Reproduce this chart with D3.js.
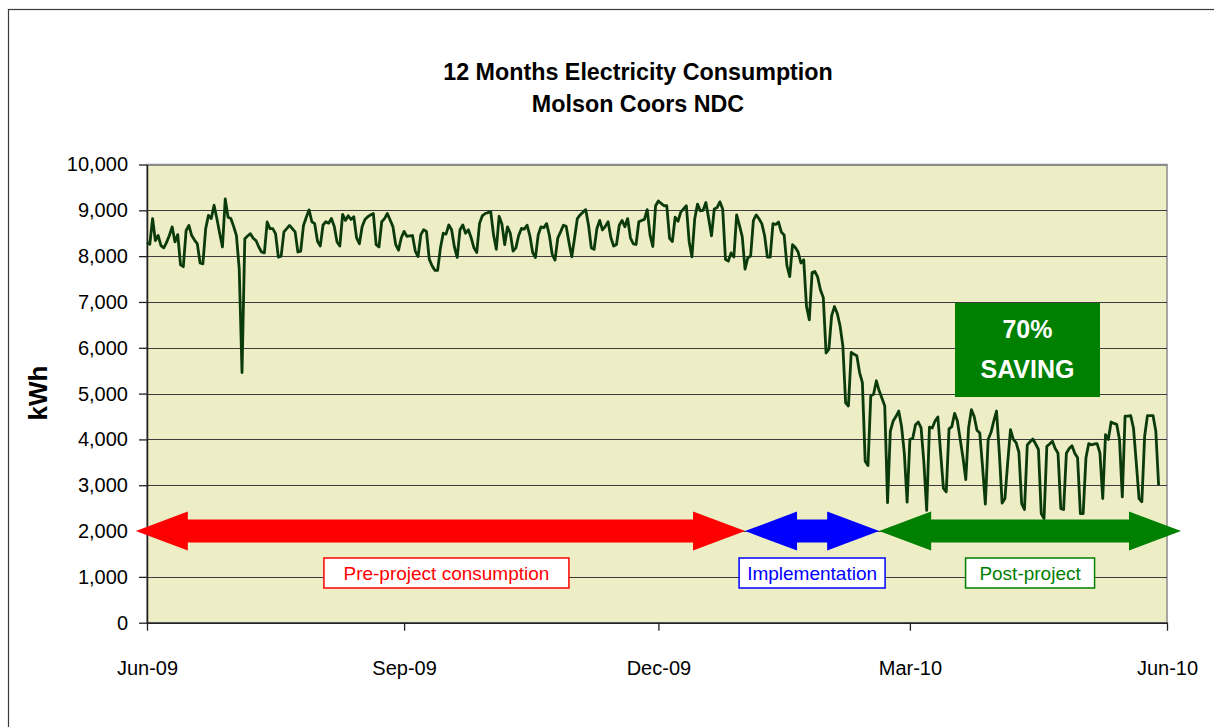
<!DOCTYPE html>
<html>
<head>
<meta charset="utf-8">
<script src="https://cdn.jsdelivr.net/npm/d3@7"></script>
<style>
  html, body { margin: 0; padding: 0; background: #fff; }
  svg { display: block; font-family: "Liberation Sans", Arial, sans-serif; }
</style>
</head>
<body>
<div id="chart"></div>
<script>
// daily consumption, starting 1 Jun 2009
const startDay = new Date(2009, 5, 1);
const dailyKwh = [
  8300, 8260, 8820, 8340, 8450, 8230, 8180,
  8300, 8450, 8640, 8310, 8470, 7810, 7770,
  8560, 8670, 8450, 8350, 8270, 7850, 7830,
  8600, 8890, 8820, 9110, 8820, 8500, 8200,
  9250, 8850, 8820, 8650, 8450, 7720, 5460,
  8380, 8440, 8490, 8390, 8340, 8200, 8090,
  8070, 8745, 8600, 8600, 8490, 7980, 8000,
  8530, 8600, 8670, 8600, 8530, 8090, 8110,
  8670, 8850, 9010, 8750, 8710, 8330, 8220,
  8680, 8750, 8720, 8820, 8650, 8310, 8220,
  8910, 8780, 8880, 8800, 8860, 8400, 8270,
  8645, 8800, 8860, 8900, 8930, 8250, 8200,
  8750, 8820, 8930, 8790, 8645, 8250, 8130,
  8400, 8540, 8430, 8440, 8450, 8110, 7990,
  8470, 8575, 8540, 7935, 7790, 7690, 7690,
  8180, 8500, 8480, 8680, 8575, 8200, 7970,
  8575, 8680, 8500, 8575, 8400, 8180, 8080,
  8715, 8880, 8930, 8950, 8970, 8465, 8150,
  8870, 8700, 8250, 8640, 8500, 8110, 8180,
  8450, 8605, 8590, 8675, 8450, 8080, 7970,
  8465, 8640, 8620, 8710, 8450, 8040, 7915,
  8395, 8530, 8675, 8650, 8300, 7985, 8395,
  8820, 8900, 8960, 9015, 8675, 8180, 8150,
  8605, 8780, 8570, 8650, 8750, 8400, 8220,
  8255, 8675, 8780, 8640, 8820, 8400, 8270,
  8255, 8750, 8780, 8800, 9015, 8465, 8210,
  9100, 9205, 9150, 9100, 9100, 8390, 8320,
  8850, 8760, 8960, 9030, 9100, 8320, 7985,
  8815, 9135, 8990, 9000, 9170, 8815, 8445,
  9030, 9060, 9185, 9030, 7930, 7890, 8070,
  7980, 8900, 8670, 8425, 7715, 7965, 8000,
  8780, 8900, 8815, 8710, 8450, 7980, 7980,
  8710, 8690, 8745, 8525, 8460, 7790, 7555,
  8250, 8190, 8090, 7850, 7920, 6900, 6610,
  7640, 7665, 7540, 7260, 7100, 5885, 5970,
  6700, 6900, 6750, 6480, 6045, 4800, 4730,
  5900, 5860, 5825, 5460, 5240, 3525, 3430,
  4950, 4985, 5280, 5060, 4900, 4730, 2620,
  4180, 4400, 4500, 4620, 4290, 3700, 2630,
  4000, 4020, 4320, 4380, 4250, 3500, 2450,
  4270, 4250, 4400, 4490, 3700, 2930, 2855,
  4230, 4280, 4570, 4400, 4000, 3600, 3125,
  4250, 4650, 4500, 4200, 4140, 3400, 2590,
  4000, 4150, 4400, 4620, 3700, 2610, 2710,
  3500, 4215, 4000, 3930, 3720, 2600, 2470,
  3880, 3950, 4010, 3900, 3780, 2380, 2270,
  3850, 3900, 3960, 3800, 3700, 2490, 2470,
  3700, 3800, 3860, 3700, 3600, 2380, 2380,
  3600, 3910, 3880, 3900, 3910, 3700, 2710,
  4105, 4000, 4380, 4350, 4330, 4000, 2745,
  4510, 4510, 4520, 4250, 3500, 2710, 2640,
  4070, 4520, 4520, 4520, 4180, 3000
];

const titleLines = ['12 Months Electricity Consumption', 'Molson Coors NDC'];
const yTicks = [0, 1000, 2000, 3000, 4000, 5000, 6000, 7000, 8000, 9000, 10000];
const xTicks = ['2009-06-01', '2009-09-01', '2009-12-01', '2010-03-01', '2010-06-01'];

// project phases shown as double arrows at the 2,000 kWh level
const phaseNames  = ['Pre-project consumption', 'Implementation', 'Post-project'];
const phaseStart  = ['2009-05-28', '2010-01-01', '2010-02-18'];
const phaseEnd    = ['2010-01-01', '2010-02-18', '2010-06-06'];
const phaseLevel  = 2000;
const savingLines = ['70%', 'SAVING'];

const parse = d3.timeParse('%Y-%m-%d');
const data = dailyKwh.map((v, i) => ({ date: d3.timeDay.offset(startDay, i), value: v }));

const width = 1214, height = 727;
const plot = { left: 147, top: 164.5, right: 1167, bottom: 622.7 };

const bgColor    = '#ededc6';
const lineColor  = '#0b3a0b';
const gridColor  = '#3c3c3c';
const phaseColor = ['#ff0000', '#0000ff', '#008000'];
const boxWidth   = [245, 146, 129];
const boxShift   = [6, 0, 0];

const svg = d3.select('#chart').append('svg')
  .attr('width', width)
  .attr('height', height);

// outer chart frame
svg.append('rect')
  .attr('x', 8.5).attr('y', 9.5)
  .attr('width', 1230).attr('height', 740)
  .attr('fill', '#fff')
  .attr('stroke', '#3a3a3a')
  .attr('stroke-width', 1.2);

const x = d3.scaleTime()
  .domain([parse(xTicks[0]), parse(xTicks[xTicks.length - 1])])
  .range([plot.left, plot.right]);

const y = d3.scaleLinear()
  .domain([0, 10000])
  .range([plot.bottom, plot.top]);

svg.append('rect')
  .attr('x', plot.left).attr('y', plot.top)
  .attr('width', plot.right - plot.left)
  .attr('height', plot.bottom - plot.top)
  .attr('fill', bgColor)
  .attr('stroke', '#8a8a8a')
  .attr('stroke-width', 1.5);

// gridlines
svg.append('g')
  .selectAll('line')
  .data(yTicks.filter(d => d > 0))
  .enter()
  .append('line')
  .attr('x1', plot.left).attr('x2', plot.right)
  .attr('y1', d => Math.round(y(d)) + 0.5)
  .attr('y2', d => Math.round(y(d)) + 0.5)
  .attr('stroke', d => d === 10000 ? '#8a8a8a' : gridColor)
  .attr('stroke-width', 1);

// axes
const yAxis = svg.append('g')
  .attr('transform', `translate(${plot.left},0)`)
  .call(d3.axisLeft(y).tickValues(yTicks).tickFormat(d3.format(','))
    .tickSize(8).tickSizeOuter(0).tickPadding(11));

const xAxis = svg.append('g')
  .attr('transform', `translate(0,${plot.bottom})`)
  .call(d3.axisBottom(x).tickValues(xTicks.map(parse)).tickFormat(d3.timeFormat('%b-%y'))
    .tickSize(8).tickSizeOuter(0).tickPadding(30));

[yAxis, xAxis].forEach(g => {
  g.selectAll('text').attr('font-size', 20).attr('fill', '#000')
    .attr('font-family', '"Liberation Sans", Arial, sans-serif');
  g.selectAll('line').attr('stroke', '#222').attr('stroke-width', 1.3);
  g.select('.domain').attr('stroke', '#222').attr('stroke-width', 1.5);
});

// consumption line
const line = d3.line()
  .x(d => x(d.date))
  .y(d => y(d.value));

svg.append('path')
  .datum(data)
  .attr('d', line)
  .attr('fill', 'none')
  .attr('stroke', lineColor)
  .attr('stroke-width', 2.8)
  .attr('stroke-linejoin', 'round');

// phase arrows
const headLen = 52, headHalf = 19.5, shaftHalf = 11.5;
function arrowPoints(x0, x1, yc) {
  return [
    [x0, yc],
    [x0 + headLen, yc - headHalf],
    [x0 + headLen, yc - shaftHalf],
    [x1 - headLen, yc - shaftHalf],
    [x1 - headLen, yc - headHalf],
    [x1, yc],
    [x1 - headLen, yc + headHalf],
    [x1 - headLen, yc + shaftHalf],
    [x0 + headLen, yc + shaftHalf],
    [x0 + headLen, yc + headHalf]
  ];
}

const phases = phaseNames.map((name, i) => ({
  name: name,
  x0: x(parse(phaseStart[i])),
  x1: x(parse(phaseEnd[i])),
  color: phaseColor[i],
  boxW: boxWidth[i],
  shift: boxShift[i]
}));

svg.append('g')
  .selectAll('polygon')
  .data(phases)
  .enter()
  .append('polygon')
  .attr('points', d => arrowPoints(d.x0, d.x1, y(phaseLevel)).join(' '))
  .attr('fill', d => d.color);

const labels = svg.append('g')
  .selectAll('g')
  .data(phases)
  .enter()
  .append('g')
  .attr('transform', d => `translate(${(d.x0 + d.x1) / 2 + d.shift},573)`);

labels.append('rect')
  .attr('x', d => -d.boxW / 2)
  .attr('y', -15)
  .attr('width', d => d.boxW)
  .attr('height', 30)
  .attr('fill', '#fff')
  .attr('stroke', d => d.color)
  .attr('stroke-width', 1.5);

labels.append('text')
  .attr('text-anchor', 'middle')
  .attr('y', 6.8)
  .attr('font-size', 19)
  .attr('fill', d => d.color)
  .text(d => d.name);

// saving badge
svg.append('rect')
  .attr('x', 955).attr('y', 303)
  .attr('width', 145).attr('height', 94)
  .attr('fill', '#008000');

svg.append('g')
  .selectAll('text')
  .data(savingLines)
  .enter()
  .append('text')
  .attr('x', 1027.5)
  .attr('y', (d, i) => 338 + i * 40)
  .attr('text-anchor', 'middle')
  .attr('font-size', 25)
  .attr('font-weight', 'bold')
  .attr('fill', '#fff')
  .text(d => d);

// titles
svg.append('g')
  .selectAll('text')
  .data(titleLines)
  .enter()
  .append('text')
  .attr('x', 638)
  .attr('y', (d, i) => 80 + i * 32)
  .attr('text-anchor', 'middle')
  .attr('font-size', 23.3)
  .attr('font-weight', 'bold')
  .text(d => d);

svg.append('text')
  .attr('transform', 'translate(47,393) rotate(-90)')
  .attr('text-anchor', 'middle')
  .attr('font-size', 26)
  .attr('font-weight', 'bold')
  .text('kWh');
</script>
</body>
</html>
